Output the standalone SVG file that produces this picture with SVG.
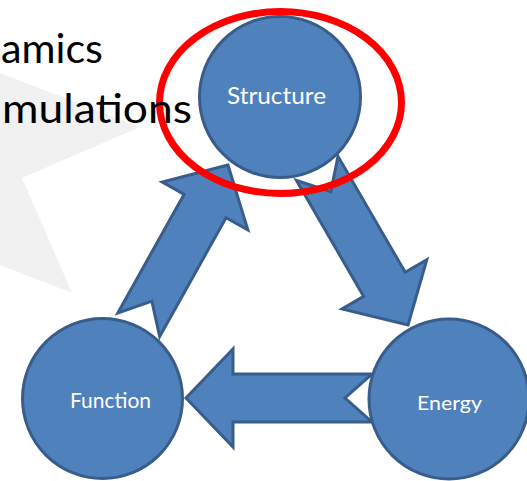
<svg xmlns="http://www.w3.org/2000/svg" width="527" height="481" viewBox="0 0 527 481">
  <style>
    .arrow { fill: #4f81bd; stroke: #385d8a; stroke-width: 3; stroke-linejoin: miter; }
    .node { fill: #4f81bd; stroke: #385d8a; stroke-width: 3; }
    .label { font-family: Lato, "Open Sans", "Liberation Sans", sans-serif; fill: #ffffff; text-anchor: middle; }
    .big { font-family: Lato, "Open Sans", "Liberation Sans", sans-serif; font-size: 40px; fill: #000000; }
  </style>
  <rect x="0" y="0" width="527" height="481" fill="#ffffff"/>
  <polygon id="bg-star" points="0,73 140,127 22,178 72,293 0,265" fill="#f1f1f1"/>
  <g id="connectors">
    <polygon class="arrow" transform="translate(186,398) rotate(180)" points="0,0 -47,-49 -47,-24 -186,-24 -159,0 -186,24 -47,24 -47,49"/>
    <polygon class="arrow" transform="translate(228,165) rotate(-60.8)" points="0,0 -47,-49 -47,-24 -183,-24 -156,0 -183,24 -47,24 -47,49"/>
    <polygon class="arrow" transform="translate(408,325) rotate(59.9)" points="0,0 -47,-49 -47,-24 -181,-24 -154,0 -181,24 -47,24 -47,49"/>
  </g>
  <g id="node-structure">
    <circle class="node" cx="280" cy="97" r="80.5"/>
    <text class="label" x="276.5" y="104" font-size="24" textLength="99" lengthAdjust="spacingAndGlyphs">Structure</text>
  </g>
  <g id="node-function">
    <circle class="node" cx="102.5" cy="398.5" r="80"/>
    <text class="label" x="110.5" y="408" font-size="21" textLength="81" lengthAdjust="spacingAndGlyphs">Function</text>
  </g>
  <g id="node-energy">
    <circle class="node" cx="449" cy="399" r="80"/>
    <text class="label" x="449.5" y="410" font-size="20" textLength="65" lengthAdjust="spacingAndGlyphs">Energy</text>
  </g>
  <ellipse id="highlight" cx="280.5" cy="102.5" rx="121" ry="91" fill="none" stroke="#ff0000" stroke-width="7"/>
  <g id="title-text">
    <text class="big" x="1" y="63" textLength="102" lengthAdjust="spacingAndGlyphs">amics</text>
    <text class="big" x="2" y="123" textLength="190" lengthAdjust="spacingAndGlyphs">mulations</text>
  </g>
</svg>
